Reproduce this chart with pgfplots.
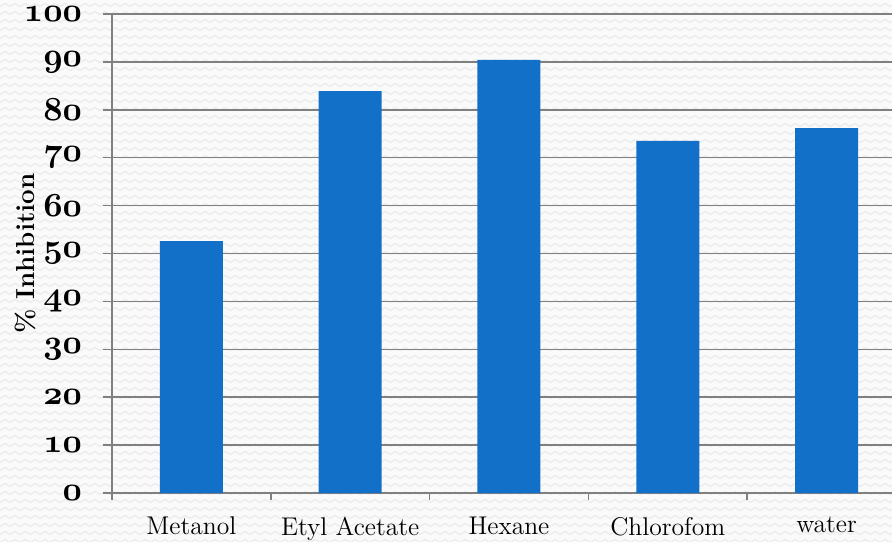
\documentclass[border=0pt]{standalone}
\usepackage{pgfplots}
\pgfplotsset{compat=1.18}
\usetikzlibrary{decorations.pathmorphing}
\definecolor{barblue}{RGB}{18,112,200}
\definecolor{axgray}{RGB}{128,128,128}
\definecolor{bg}{RGB}{250,250,250}
\definecolor{wave}{RGB}{235,235,235}
\newcommand\osn[1]{{\usefont{OML}{cmm}{b}{it}#1}}
\begin{document}
\begin{tikzpicture}
\path[use as bounding box, fill=bg] (-56pt,-24pt) rectangle (390pt,246.5pt);
\begin{scope}
\clip (-56pt,-24pt) rectangle (390pt,246.5pt);
\foreach \r in {0,...,68}{
  \draw[wave, line width=0.6pt, decorate, decoration={snake, segment length=5pt, amplitude=0.7pt}]
    (-60pt,-24pt+\r*4pt) -- (395pt,-24pt+\r*4pt);
}
\end{scope}
\begin{axis}[
  at={(0,0)}, anchor=south west,
  scale only axis, width=390pt, height=239.5pt,
  xmin=-0.5, xmax=4.412, ymin=0, ymax=100,
  axis lines=left,
  axis line style={-, draw=axgray, line width=0.75pt},
  ybar, bar width=31.5pt,
  ytick={0,10,...,100},
  yticklabels={\osn{0},\osn{10},\osn{20},\osn{30},\osn{40},\osn{50},\osn{60},\osn{70},\osn{80},\osn{90},\osn{100}},
  yticklabel style={font=\fontsize{12}{14}\selectfont, scale=1.4, xshift=-4pt},
  xtick={0,1,2,3,4},
  xticklabels={Metanol, Etyl Acetate, Hexane, Chlorofom, water},
  xticklabel style={font=\fontsize{12.8}{15}\selectfont, yshift=-4pt},
  minor xtick={-0.5,0.5,1.5,2.5,3.5},
  major x tick style={draw=none},
  minor x tick style={draw=axgray, line width=0.75pt},
  y tick style={draw=axgray, line width=0.75pt},
  tick align=outside,
  major tick length=4.5pt,
  minor tick length=3.5pt,
  ymajorgrids,
  major grid style={draw=axgray, line width=0.75pt},
  ylabel={\% Inhibition},
  every axis y label/.style={at={(axis description cs:-0.1115,0.5)}, rotate=90, anchor=center, font=\bfseries\fontsize{13}{15}\selectfont},
  clip=false,
]
\addplot[fill=barblue, draw=none] coordinates {(0,52.6) (1,83.9) (2,90.4) (3,73.5) (4,76.2)};
\end{axis}
\end{tikzpicture}
\end{document}
